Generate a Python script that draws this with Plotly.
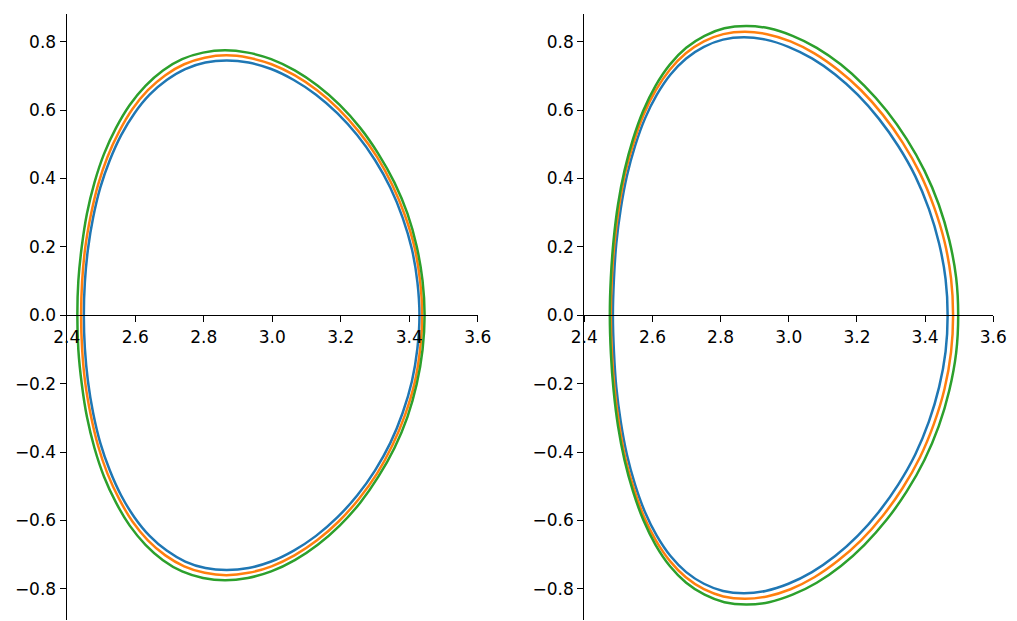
import plotly.graph_objects as go
from plotly.subplots import make_subplots

# flux-surface outlines, (R, Z) pairs going once round each curve
left_blue_r = [3.430, 3.424, 3.408, 3.381, 3.345, 3.300, 3.248, 3.190, 3.128, 3.063, 2.997, 2.931, 2.867,
               2.805, 2.746, 2.692, 2.642, 2.598, 2.559, 2.526, 2.498, 2.477, 2.462, 2.453, 2.450,
               2.453, 2.462, 2.477, 2.498, 2.526, 2.559, 2.598, 2.642, 2.692, 2.746, 2.805, 2.867,
               2.931, 2.997, 3.063, 3.128, 3.190, 3.248, 3.300, 3.345, 3.381, 3.408, 3.424, 3.430]
left_blue_z = [0.0, 0.097, 0.193, 0.285, 0.373, 0.454, 0.527, 0.591, 0.645, 0.688, 0.720, 0.739, 0.745,
               0.739, 0.720, 0.688, 0.645, 0.591, 0.527, 0.454, 0.373, 0.285, 0.193, 0.097, 0.0,
               -0.097, -0.193, -0.285, -0.373, -0.454, -0.527, -0.591, -0.645, -0.688, -0.720, -0.739, -0.745,
               -0.739, -0.720, -0.688, -0.645, -0.591, -0.527, -0.454, -0.373, -0.285, -0.193, -0.097, 0.0]

left_orange_r = [3.438, 3.432, 3.416, 3.388, 3.351, 3.306, 3.253, 3.194, 3.131, 3.065, 2.998, 2.931, 2.866,
                 2.803, 2.743, 2.688, 2.637, 2.592, 2.553, 2.519, 2.491, 2.470, 2.454, 2.445, 2.442,
                 2.445, 2.454, 2.470, 2.491, 2.519, 2.553, 2.592, 2.637, 2.688, 2.743, 2.803, 2.866,
                 2.931, 2.998, 3.065, 3.131, 3.194, 3.253, 3.306, 3.351, 3.388, 3.416, 3.432, 3.438]
left_orange_z = [0.0, 0.099, 0.197, 0.291, 0.380, 0.463, 0.537, 0.603, 0.658, 0.702, 0.734, 0.753, 0.760,
                 0.753, 0.734, 0.702, 0.658, 0.603, 0.537, 0.463, 0.380, 0.291, 0.197, 0.099, 0.0,
                 -0.099, -0.197, -0.291, -0.380, -0.463, -0.537, -0.603, -0.658, -0.702, -0.734, -0.753, -0.760,
                 -0.753, -0.734, -0.702, -0.658, -0.603, -0.537, -0.463, -0.380, -0.291, -0.197, -0.099, 0.0]

left_green_r = [3.445, 3.439, 3.422, 3.395, 3.357, 3.310, 3.257, 3.197, 3.133, 3.066, 2.997, 2.929, 2.862,
                2.798, 2.737, 2.681, 2.630, 2.584, 2.544, 2.509, 2.481, 2.459, 2.444, 2.434, 2.431,
                2.434, 2.444, 2.459, 2.481, 2.509, 2.544, 2.584, 2.630, 2.681, 2.737, 2.798, 2.862,
                2.929, 2.997, 3.066, 3.133, 3.197, 3.257, 3.310, 3.357, 3.395, 3.422, 3.439, 3.445]
left_green_z = [0.0, 0.101, 0.201, 0.297, 0.388, 0.472, 0.548, 0.615, 0.671, 0.716, 0.749, 0.768, 0.775,
                0.768, 0.749, 0.716, 0.671, 0.615, 0.548, 0.472, 0.388, 0.297, 0.201, 0.101, 0.0,
                -0.101, -0.201, -0.297, -0.388, -0.472, -0.548, -0.615, -0.671, -0.716, -0.749, -0.768, -0.775,
                -0.768, -0.749, -0.716, -0.671, -0.615, -0.548, -0.472, -0.388, -0.297, -0.201, -0.101, 0.0]

right_blue_r = [3.466, 3.460, 3.441, 3.411, 3.371, 3.321, 3.264, 3.202, 3.136, 3.068, 2.999, 2.932, 2.868,
                2.807, 2.751, 2.699, 2.653, 2.613, 2.578, 2.549, 2.525, 2.507, 2.494, 2.487, 2.484,
                2.487, 2.494, 2.507, 2.525, 2.549, 2.578, 2.613, 2.653, 2.699, 2.751, 2.807, 2.868,
                2.932, 2.999, 3.068, 3.136, 3.202, 3.264, 3.321, 3.371, 3.411, 3.441, 3.460, 3.466]
right_blue_z = [0.0, 0.106, 0.210, 0.311, 0.407, 0.495, 0.575, 0.645, 0.704, 0.751, 0.785, 0.806, 0.813,
                0.806, 0.785, 0.751, 0.704, 0.645, 0.575, 0.495, 0.407, 0.311, 0.210, 0.106, 0.0,
                -0.106, -0.210, -0.311, -0.407, -0.495, -0.575, -0.645, -0.704, -0.751, -0.785, -0.806, -0.813,
                -0.806, -0.785, -0.751, -0.704, -0.645, -0.575, -0.495, -0.407, -0.311, -0.210, -0.106, 0.0]

right_orange_r = [3.482, 3.476, 3.457, 3.426, 3.385, 3.334, 3.276, 3.212, 3.144, 3.075, 3.005, 2.936, 2.871,
                  2.808, 2.751, 2.698, 2.651, 2.610, 2.574, 2.545, 2.520, 2.502, 2.489, 2.481, 2.478,
                  2.481, 2.489, 2.502, 2.520, 2.545, 2.574, 2.610, 2.651, 2.698, 2.751, 2.808, 2.871,
                  2.936, 3.005, 3.075, 3.144, 3.212, 3.276, 3.334, 3.385, 3.426, 3.457, 3.476, 3.482]
right_orange_z = [0.0, 0.108, 0.215, 0.317, 0.415, 0.505, 0.586, 0.658, 0.718, 0.766, 0.801, 0.822, 0.829,
                  0.822, 0.801, 0.766, 0.718, 0.658, 0.586, 0.505, 0.415, 0.317, 0.215, 0.108, 0.0,
                  -0.108, -0.215, -0.317, -0.415, -0.505, -0.586, -0.658, -0.718, -0.766, -0.801, -0.822, -0.829,
                  -0.822, -0.801, -0.766, -0.718, -0.658, -0.586, -0.505, -0.415, -0.317, -0.215, -0.108, 0.0]

right_green_r = [3.497, 3.491, 3.471, 3.440, 3.398, 3.346, 3.287, 3.222, 3.153, 3.082, 3.011, 2.942, 2.875,
                 2.811, 2.753, 2.699, 2.651, 2.609, 2.573, 2.543, 2.518, 2.499, 2.486, 2.478, 2.475,
                 2.478, 2.486, 2.499, 2.518, 2.543, 2.573, 2.609, 2.651, 2.699, 2.753, 2.811, 2.875,
                 2.942, 3.011, 3.082, 3.153, 3.222, 3.287, 3.346, 3.398, 3.440, 3.471, 3.491, 3.497]
right_green_z = [0.0, 0.110, 0.219, 0.324, 0.423, 0.515, 0.598, 0.671, 0.733, 0.782, 0.817, 0.839, 0.846,
                 0.839, 0.817, 0.782, 0.733, 0.671, 0.598, 0.515, 0.423, 0.324, 0.219, 0.110, 0.0,
                 -0.110, -0.219, -0.324, -0.423, -0.515, -0.598, -0.671, -0.733, -0.782, -0.817, -0.839, -0.846,
                 -0.839, -0.817, -0.782, -0.733, -0.671, -0.598, -0.515, -0.423, -0.324, -0.219, -0.110, 0.0]

x_ticks = [2.4, 2.6, 2.8, 3.0, 3.2, 3.4, 3.6]
y_ticks = [-0.8, -0.6, -0.4, -0.2, 0.0, 0.2, 0.4, 0.6, 0.8]

colors = ['#1f77b4', '#ff7f0e', '#2ca02c']

panels = [
    [(left_blue_r, left_blue_z), (left_orange_r, left_orange_z), (left_green_r, left_green_z)],
    [(right_blue_r, right_blue_z), (right_orange_r, right_orange_z), (right_green_r, right_green_z)],
]

fig = make_subplots(rows=1, cols=2)

for col, curves in enumerate(panels, start=1):
    for (r, z), c in zip(curves, colors):
        fig.add_trace(go.Scatter(
            x=r, y=z, mode='lines',
            line=dict(color=c, width=2.5, shape='spline', smoothing=1.0),
            showlegend=False, hoverinfo='skip'
        ), row=1, col=col)

y_range = [-0.891, 0.881]
y_dom = [0.0016, 0.9775]
# put the x axis line at z = 0, like matplotlib spines at 'zero'
x_pos = y_dom[0] + (0 - y_range[0]) / (y_range[1] - y_range[0]) * (y_dom[1] - y_dom[0])

axis_style = dict(
    showline=True, linecolor='black', linewidth=1.3,
    ticks='outside', ticklen=6, tickwidth=1.3, tickcolor='black',
    showgrid=False, zeroline=False, tickformat='.1f', automargin=False,
    tickfont=dict(family='DejaVu Sans', size=17, color='black'),
)

fig.update_layout(
    width=1017, height=621,
    margin=dict(l=0, r=0, t=0, b=0),
    paper_bgcolor='white', plot_bgcolor='white',
    xaxis=dict(domain=[0.0656, 0.4697], range=[2.4, 3.6], tickvals=x_ticks,
               anchor='free', position=x_pos, **axis_style),
    xaxis2=dict(domain=[0.5745, 0.9767], range=[2.4, 3.6], tickvals=x_ticks,
                anchor='free', position=x_pos, **axis_style),
    yaxis=dict(domain=y_dom, range=y_range, tickvals=y_ticks, anchor='x', **axis_style),
    yaxis2=dict(domain=y_dom, range=y_range, tickvals=y_ticks, anchor='x2', **axis_style),
)

# drop the page's default 8px body margin so the figure sits at the window corner
fig.write_html("out.html", config={'displayModeBar': False},
               post_script="document.body.style.margin='0';")
